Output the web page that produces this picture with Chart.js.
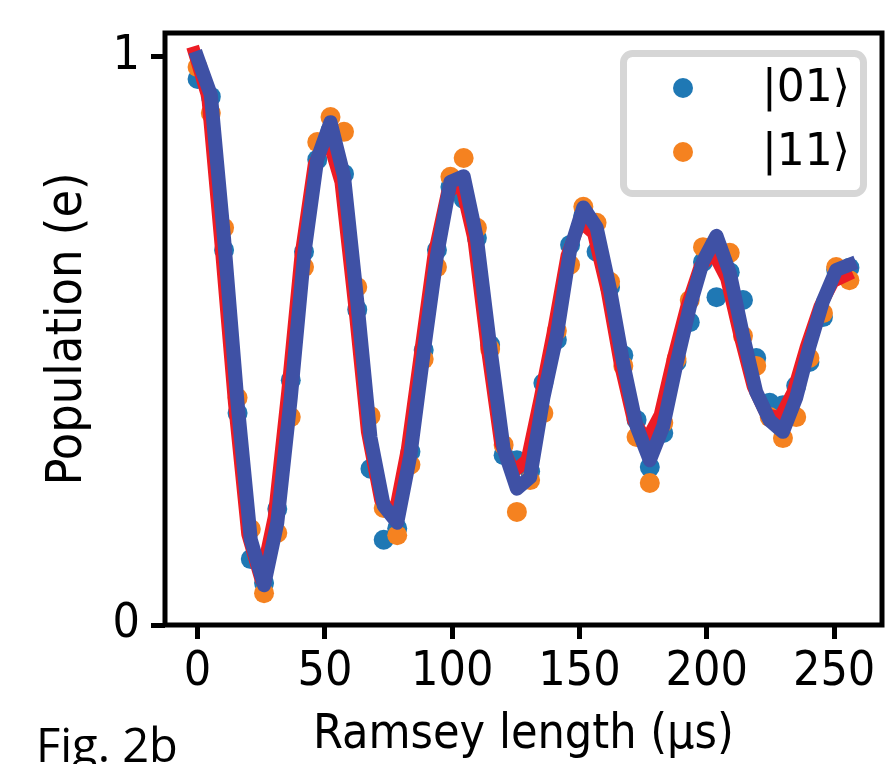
<!DOCTYPE html>
<html>
<head>
<meta charset="utf-8">
<script src="https://cdn.jsdelivr.net/npm/chart.js@4.4.1/dist/chart.umd.min.js"></script>
<style>
  html, body { margin: 0; padding: 0; background: #fff; }
  #wrap { width: 892px; height: 764px; }
</style>
</head>
<body>
<div id="wrap"><canvas id="myChart" width="892" height="764"></canvas></div>
<script>
// Ramsey length (us)
const ramseyLen = [0, 5.2, 10.4, 15.7, 20.9, 26.1, 31.3, 36.6, 41.8, 47.0,
  52.2, 57.5, 62.7, 67.9, 73.1, 78.4, 83.6, 88.8, 94.0, 99.3,
  104.5, 109.7, 114.9, 120.2, 125.4, 130.6, 135.8, 141.1, 146.3, 151.5,
  156.7, 162.0, 167.2, 172.4, 177.6, 182.9, 188.1, 193.3, 198.5, 203.8,
  209.0, 214.2, 219.4, 224.7, 229.9, 235.1, 240.3, 245.6, 250.8, 256.0];

// red curve sits a little to the left of the blue one
const fitLen = [-1.2, 4.0, 9.2, 14.5, 19.7, 24.9, 30.1, 35.4, 40.6, 45.8,
  51.0, 56.3, 61.5, 66.7, 71.9, 77.2, 82.4, 87.6, 92.8, 98.1,
  103.3, 108.5, 113.7, 119.0, 124.2, 129.4, 134.6, 139.9, 145.1, 150.3,
  155.5, 160.8, 166.0, 171.2, 176.4, 181.7, 186.9, 192.1, 197.3, 202.6,
  207.8, 213.0, 218.2, 223.5, 228.7, 233.9, 239.1, 244.4, 249.6, 254.8];

// measured populations
const pop01 = [0.961, 0.93, 0.660, 0.373, 0.116, 0.074, 0.204, 0.431, 0.657, 0.819,
  0.87, 0.794, 0.555, 0.275, 0.150, 0.17, 0.305, 0.484, 0.660, 0.771,
  0.75, 0.681, 0.493, 0.299, 0.290, 0.27, 0.426, 0.502, 0.669, 0.72,
  0.657, 0.595, 0.475, 0.361, 0.278, 0.338, 0.463, 0.533, 0.639, 0.577,
  0.621, 0.572, 0.470, 0.391, 0.387, 0.421, 0.463, 0.542, 0.625, 0.629];

const pop11 = [0.982, 0.901, 0.699, 0.400, 0.169, 0.056, 0.162, 0.366, 0.630, 0.850,
  0.894, 0.868, 0.595, 0.368, 0.206, 0.158, 0.282, 0.468, 0.630, 0.789,
  0.822, 0.699, 0.486, 0.317, 0.199, 0.255, 0.373, 0.518, 0.634, 0.736,
  0.708, 0.604, 0.456, 0.331, 0.250, 0.356, 0.468, 0.572, 0.665, 0.665,
  0.655, 0.509, 0.456, 0.366, 0.329, 0.366, 0.470, 0.549, 0.630, 0.607];

// the two curves
const curveBlue = [0.998, 0.933, 0.68, 0.39, 0.15, 0.07, 0.18, 0.40, 0.65, 0.82,
  0.885, 0.79, 0.57, 0.33, 0.21, 0.18, 0.30, 0.48, 0.65, 0.78,
  0.79, 0.68, 0.49, 0.31, 0.24, 0.26, 0.40, 0.51, 0.66, 0.735,
  0.70, 0.59, 0.46, 0.35, 0.29, 0.35, 0.46, 0.56, 0.64, 0.685,
  0.62, 0.51, 0.41, 0.36, 0.34, 0.40, 0.49, 0.57, 0.625, 0.634];

const curveRed = [1.007, 0.93, 0.67, 0.39, 0.16, 0.08, 0.19, 0.41, 0.65, 0.81,
  0.86, 0.78, 0.57, 0.34, 0.22, 0.19, 0.31, 0.48, 0.65, 0.76,
  0.78, 0.68, 0.49, 0.32, 0.27, 0.29, 0.40, 0.52, 0.65, 0.71,
  0.69, 0.59, 0.46, 0.36, 0.325, 0.37, 0.47, 0.56, 0.63, 0.655,
  0.61, 0.51, 0.42, 0.37, 0.365, 0.41, 0.49, 0.56, 0.605, 0.616];

const xTicks = [0, 50, 100, 150, 200, 250];
const yTicks = [0, 1];
const legendLabels = ['|01\u27E9', '|11\u27E9'];

const FONT = '"DejaVu Sans Condensed", "DejaVu Sans", sans-serif';
const C_BLUE = '#1f78b4';
const C_ORANGE = '#f58220';

const pts = (xs, ys) => xs.map((x, i) => ({ x: x, y: ys[i] }));

const extras = {
  id: 'extras',
  beforeDraw(chart) {
    const ctx = chart.ctx;
    ctx.save();
    ctx.fillStyle = '#fff';
    ctx.fillRect(0, 0, chart.width, chart.height);
    ctx.restore();
  },
  afterDraw(chart) {
    const ctx = chart.ctx;
    const a = chart.chartArea;
    ctx.save();
    // frame
    ctx.strokeStyle = '#000';
    ctx.lineWidth = 5;
    ctx.strokeRect(a.left, a.top, a.right - a.left, a.bottom - a.top);

    // legend box
    ctx.beginPath();
    ctx.roundRect(623.5, 53.5, 240, 140, 9);
    ctx.fillStyle = 'rgba(255,255,255,0.85)';
    ctx.fill();
    ctx.strokeStyle = '#d6d6d6';
    ctx.lineWidth = 7;
    ctx.stroke();
    const cols = [C_BLUE, C_ORANGE];
    const rows = [88, 152];
    ctx.font = '44px "DejaVu Sans", sans-serif';
    ctx.textBaseline = 'middle';
    ctx.textAlign = 'left';
    for (let i = 0; i < 2; i++) {
      ctx.beginPath();
      ctx.arc(683, rows[i], 10, 0, Math.PI * 2);
      ctx.fillStyle = cols[i];
      ctx.fill();
      ctx.fillStyle = '#000';
      ctx.fillText(legendLabels[i], 762, rows[i] + 2);
    }

    // figure tag
    ctx.font = '47px "Open Sans", sans-serif';
    ctx.textBaseline = 'alphabetic';
    ctx.fillText('Fig. 2b', 36, 762);
    ctx.restore();
  }
};

const ctx = document.getElementById('myChart').getContext('2d');
const myChart = new Chart(ctx, {
  type: 'scatter',
  data: {
    datasets: [
      {
        label: legendLabels[0],
        data: pts(ramseyLen, pop01),
        backgroundColor: C_BLUE,
        borderWidth: 0,
        pointRadius: 10,
        order: 4
      },
      {
        label: legendLabels[1],
        data: pts(ramseyLen, pop11),
        backgroundColor: C_ORANGE,
        borderWidth: 0,
        pointRadius: 10,
        order: 3
      },
      {
        label: 'fit',
        data: pts(fitLen, curveRed),
        showLine: true,
        borderColor: '#ed1c24',
        borderWidth: 13,
        pointRadius: 0,
        borderJoinStyle: 'round',
        borderCapStyle: 'square',
        order: 2
      },
      {
        label: 'sim',
        data: pts(ramseyLen, curveBlue),
        showLine: true,
        borderColor: '#3f51a5',
        borderWidth: 14,
        pointRadius: 0,
        borderJoinStyle: 'round',
        borderCapStyle: 'square',
        order: 1
      }
    ]
  },
  options: {
    responsive: false,
    animation: false,
    events: [],
    layout: { padding: { left: 0, right: 7, top: 33, bottom: 0 } },
    plugins: {
      legend: { display: false },
      tooltip: { enabled: false }
    },
    scales: {
      x: {
        type: 'linear',
        min: -12.8,
        max: 268.8,
        afterBuildTicks: (s) => { s.ticks = xTicks.map(v => ({ value: v })); },
        afterFit: (s) => { s.height = 139; s.paddingLeft = 0; s.paddingRight = 0; },
        grid: {
          display: true,
          drawOnChartArea: false,
          drawTicks: true,
          tickLength: 14,
          tickWidth: 5,
          tickColor: '#000'
        },
        border: { display: false },
        ticks: {
          color: '#000',
          font: { family: FONT, size: 48 },
          padding: 5,
          maxRotation: 0,
          autoSkip: false
        },
        title: {
          display: true,
          text: 'Ramsey length (\u03BCs)',
          color: '#000',
          font: { family: FONT, size: 48 },
          padding: { top: 0, bottom: 0 }
        }
      },
      y: {
        type: 'linear',
        min: 0,
        max: 1.042,
        afterBuildTicks: (s) => { s.ticks = yTicks.map(v => ({ value: v })); },
        afterFit: (s) => { s.width = 165; s.paddingTop = 0; s.paddingBottom = 0; },
        grid: {
          display: true,
          drawOnChartArea: false,
          drawTicks: true,
          tickLength: 14,
          tickWidth: 5,
          tickColor: '#000'
        },
        border: { display: false },
        ticks: {
          color: '#000',
          font: { family: FONT, size: 48 },
          padding: 11,
          autoSkip: false
        },
        title: {
          display: true,
          text: 'Population (e)',
          color: '#000',
          font: { family: FONT, size: 50 },
          padding: { top: 38, bottom: 0 }
        }
      }
    }
  },
  plugins: [extras]
});
console.log(myChart);
</script>
</body>
</html>
